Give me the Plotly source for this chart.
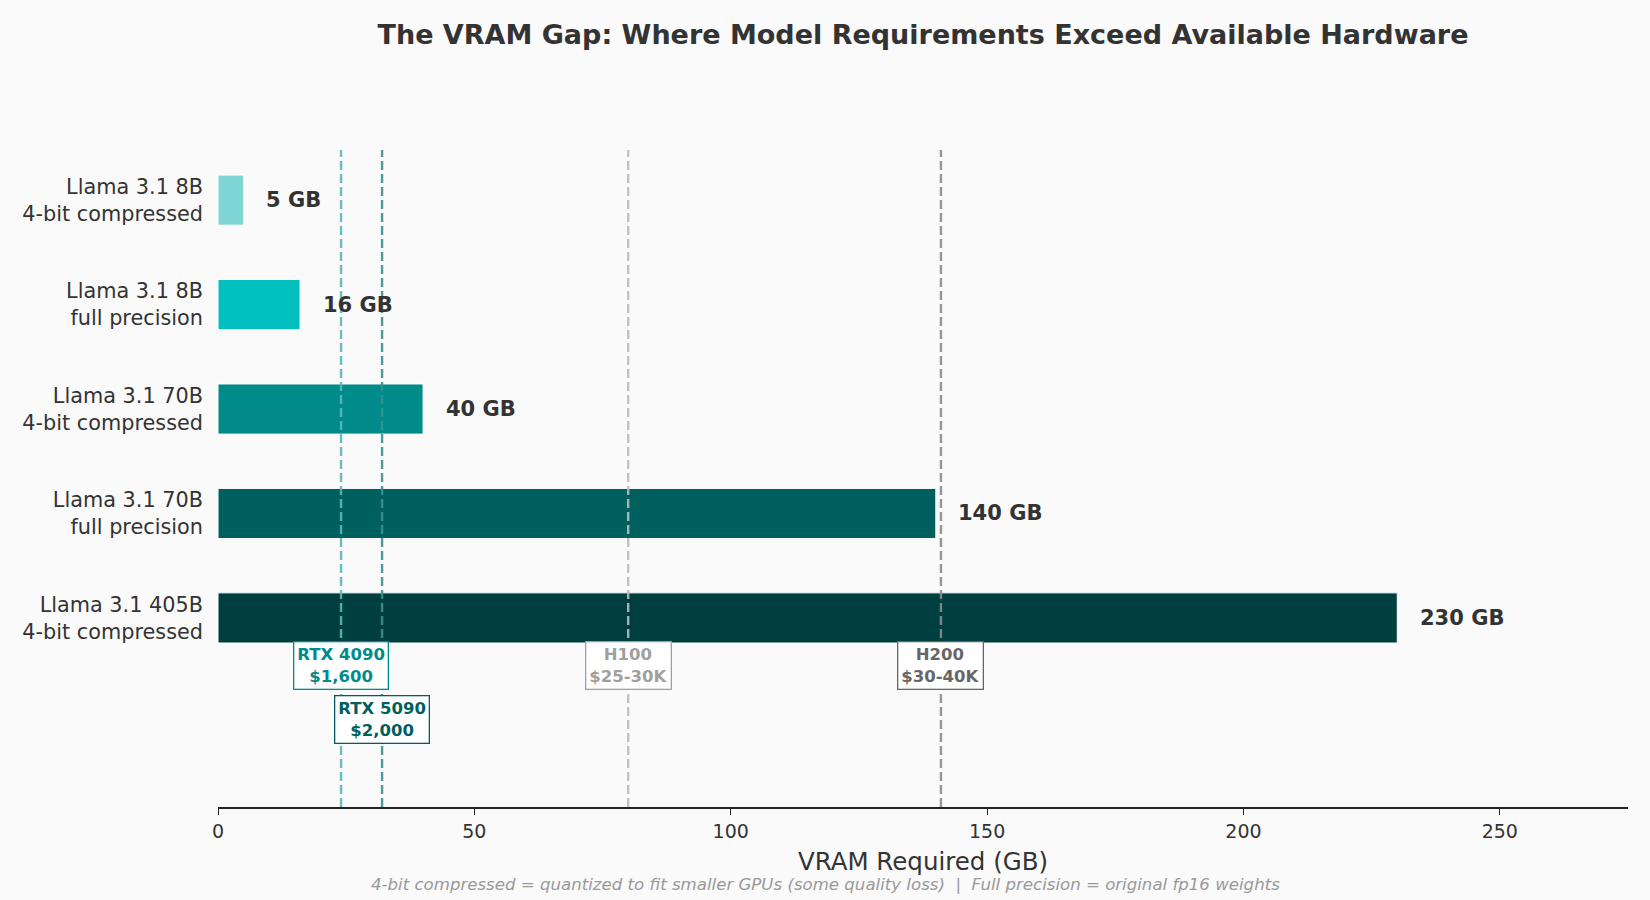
import plotly.graph_objects as go

models = ["Llama 3.1 8B<br>4-bit compressed", "Llama 3.1 8B<br>full precision",
          "Llama 3.1 70B<br>4-bit compressed", "Llama 3.1 70B<br>full precision",
          "Llama 3.1 405B<br>4-bit compressed"]
vram = [5, 16, 40, 140, 230]
value_labels = ["5 GB", "16 GB", "40 GB", "140 GB", "230 GB"]
bar_colors = ["#7FD5D5", "#00BFBF", "#008B8B", "#006060", "#003F3F"]

gpus = ["RTX 4090<br>$1,600", "RTX 5090<br>$2,000", "H100<br>$25-30K", "H200<br>$30-40K"]
gpu_vram = [24, 32, 80, 141]
gpu_line_colors = ["#5DB8B8", "#3D8F8F", "#BDBDBD", "#8C8C8C"]
gpu_text_colors = ["#008B8B", "#005F5F", "#A0A0A0", "#666666"]
gpu_label_y = [4.46, 4.97, 4.46, 4.46]

FONT = "DejaVu Sans"

fig = go.Figure()
fig.add_trace(go.Bar(
    y=models, x=vram, orientation="h", width=0.48,
    marker=dict(color=bar_colors, line=dict(color="white", width=1)),
    hoverinfo="skip", showlegend=False,
))

for xv, lc in zip(gpu_vram, gpu_line_colors):
    fig.add_shape(type="line", x0=xv, x1=xv, xref="x", yref="paper", y0=0, y1=1,
                  line=dict(color=lc, width=2.4, dash="9px,4px"), layer="above",
                  opacity=0.9)

for m, v, t in zip(models, vram, value_labels):
    fig.add_annotation(x=v + 4, y=m, text=f"<b>{t}</b>", showarrow=False,
                       xanchor="left", yanchor="middle",
                       font=dict(family=FONT, size=21, color="#333333"))

for g, xv, tc, yy in zip(gpus, gpu_vram, gpu_text_colors, gpu_label_y):
    fig.add_annotation(x=xv, y=yy, xref="x", yref="y", text=f"<b>{g}</b>", showarrow=False,
                       xanchor="center", yanchor="middle", align="center",
                       font=dict(family=FONT, size=16.5, color=tc),
                       bgcolor="white", bordercolor=tc, borderwidth=1.3, borderpad=3)

fig.add_annotation(xref="paper", yref="paper", x=(825 - 218) / 1410, y=-(885 - 807) / 657,
                   text="<i>4-bit compressed = quantized to fit smaller GPUs (some quality loss)  |  Full precision = original fp16 weights</i>",
                   showarrow=False, xanchor="center", yanchor="middle",
                   font=dict(family=FONT, size=16.6, color="#999999"))

fig.update_layout(
    width=1650, height=900,
    margin=dict(l=218, r=22, t=150, b=93),
    paper_bgcolor="#FAFAFA", plot_bgcolor="#FAFAFA",
    font=dict(family=FONT, color="#333333"),
    title=dict(text="<b>The VRAM Gap: Where Model Requirements Exceed Available Hardware</b>",
               x=(218 + 1628) / 2 / 1650, xanchor="center", xref="container",
               y=1 - 35 / 900, yanchor="middle", yref="container",
               font=dict(family=FONT, size=27, color="#333333")),
    xaxis=dict(range=[0, 275], showgrid=False, zeroline=False, showline=True,
               linecolor="#222222", linewidth=1.5, ticks="outside", ticklen=6,
               tickcolor="#222222", tickvals=[0, 50, 100, 150, 200, 250],
               tickfont=dict(family=FONT, size=19, color="#333333"),
               title=dict(text="VRAM Required (GB)", standoff=12,
                          font=dict(family=FONT, size=24.5, color="#333333"))),
    yaxis=dict(type="category", categoryorder="array", categoryarray=models,
               range=[5.81, -0.48], showgrid=False, zeroline=False, showline=False,
               ticks="", ticklabelstandoff=14,
               tickfont=dict(family=FONT, size=20.8, color="#333333")),
)

fig.write_html("out.html")
